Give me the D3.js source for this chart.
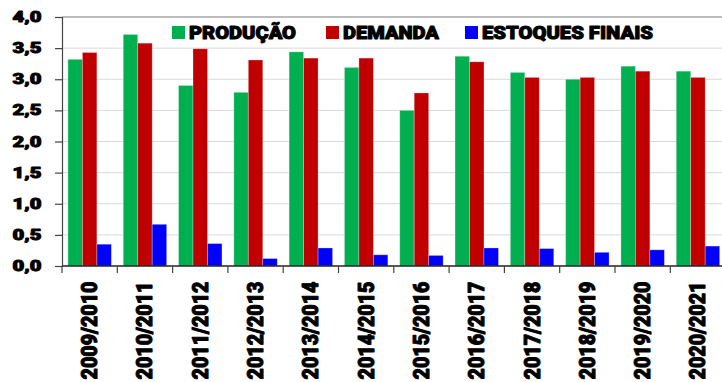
<!DOCTYPE html>
<html>
<head>
<meta charset="utf-8">
<script src="https://cdn.jsdelivr.net/npm/d3@7"></script>
<style>
  html, body { margin: 0; padding: 0; background: #fff; }
  svg { display: block; font-family: Roboto, "Liberation Sans", Arial, sans-serif; }
  .heavy { stroke: #000; stroke-linejoin: round; }
</style>
</head>
<body>
<svg id="chart" width="722" height="382"></svg>
<script>
// Safras e valores (milhões de toneladas)
const categories = ["2009/2010","2010/2011","2011/2012","2012/2013","2013/2014","2014/2015",
                    "2015/2016","2016/2017","2017/2018","2018/2019","2019/2020","2020/2021"];
const producao   = [3.32, 3.72, 2.90, 2.79, 3.44, 3.19, 2.50, 3.37, 3.11, 3.00, 3.21, 3.13];
const demanda    = [3.43, 3.58, 3.49, 3.31, 3.34, 3.34, 2.78, 3.28, 3.03, 3.03, 3.13, 3.03];
const estoques   = [0.35, 0.67, 0.36, 0.12, 0.29, 0.18, 0.17, 0.29, 0.28, 0.22, 0.26, 0.32];
const seriesNames = ["PRODUÇÃO", "DEMANDA", "ESTOQUES FINAIS"];
const seriesColors = ["#00B050", "#C00000", "#0000FF"];
const yTicks = [0, 0.5, 1, 1.5, 2, 2.5, 3, 3.5, 4];

const seriesValues = [producao, demanda, estoques];
const svg = d3.select("#chart");

const plotLeft = 62, plotRight = 725.6, plotTop = 17, plotBottom = 266;

const x0 = d3.scaleBand().domain(categories).range([plotLeft, plotRight]).paddingInner(0).paddingOuter(0);
const x1 = d3.scaleBand().domain(seriesNames).range([0, x0.bandwidth()]).paddingInner(0).paddingOuter(0.41);
const y = d3.scaleLinear().domain([0, 4]).range([plotBottom, plotTop]);

const fmt = v => d3.format(".1f")(v).replace(".", ",");

// Grid lines
svg.append("g").selectAll("line")
  .data(yTicks.filter(t => t > 0 && t < 4))
  .join("line")
  .attr("x1", plotLeft).attr("x2", 722)
  .attr("y1", d => y(d)).attr("y2", d => y(d))
  .attr("stroke", "#d9d9d9").attr("stroke-width", 1);

// Top border line
svg.append("line")
  .attr("x1", plotLeft).attr("x2", 722)
  .attr("y1", y(4)).attr("y2", y(4))
  .attr("stroke", "#a6a6a6").attr("stroke-width", 1.6);

// Bars
const groups = svg.append("g").selectAll("g")
  .data(categories)
  .join("g")
  .attr("transform", d => `translate(${x0(d)},0)`);

groups.selectAll("rect")
  .data((c, i) => seriesNames.map((s, k) => ({ s, k, v: seriesValues[k][i] })))
  .join("rect")
  .attr("x", d => x1(d.s))
  .attr("width", x1.bandwidth())
  .attr("y", d => y(d.v))
  .attr("height", d => y(0) - y(d.v))
  .attr("fill", d => seriesColors[d.k])
  .attr("stroke", "rgba(255,255,255,0.35)")
  .attr("stroke-width", 0.8);

// Y axis
const yAxis = svg.append("g").attr("transform", `translate(${plotLeft},0)`)
  .call(d3.axisLeft(y).tickValues(yTicks).tickSize(7).tickFormat(""));
yAxis.select(".domain").attr("stroke", "#444").attr("stroke-width", 1.2);
yAxis.selectAll(".tick line").attr("stroke", "#444").attr("stroke-width", 1.2);

svg.append("g").selectAll("text")
  .data(yTicks)
  .join("text")
  .attr("class", "heavy")
  .attr("stroke-width", 0.9)
  .attr("x", 41.5)
  .attr("y", d => y(d) + 5)
  .attr("text-anchor", "end")
  .attr("font-size", 14)
  .attr("font-weight", 900)
  .attr("textLength", 29)
  .attr("lengthAdjust", "spacingAndGlyphs")
  .attr("fill", "#000")
  .text(fmt);

// X axis
const boundaries = categories.map(c => x0(c));
const xAxisG = svg.append("g");
xAxisG.append("line")
  .attr("x1", plotLeft).attr("x2", 722)
  .attr("y1", plotBottom).attr("y2", plotBottom)
  .attr("stroke", "#222").attr("stroke-width", 1.4);
xAxisG.selectAll("line.tick")
  .data(boundaries)
  .join("line").attr("class", "tick")
  .attr("x1", d => d).attr("x2", d => d)
  .attr("y1", plotBottom).attr("y2", plotBottom + 7)
  .attr("stroke", "#444").attr("stroke-width", 1.2);

svg.append("g").selectAll("text")
  .data(categories)
  .join("text")
  .attr("class", "heavy")
  .attr("stroke-width", 1)
  .attr("transform", d => `translate(${x0(d) + x0.bandwidth() / 2 + 7.5},${plotBottom + 15.5}) rotate(-90)`)
  .attr("text-anchor", "end")
  .attr("font-size", 22)
  .attr("font-weight", 900)
  .attr("textLength", 98)
  .attr("lengthAdjust", "spacingAndGlyphs")
  .attr("fill", "#000")
  .text(d => d);

// Legend
const legendX = [172, 326, 465];
const legendTextWidth = [107, 96, 171];
const legend = svg.append("g").selectAll("g")
  .data(seriesNames)
  .join("g")
  .attr("transform", (d, i) => `translate(${legendX[i]},26)`);
legend.append("rect")
  .attr("width", 13).attr("height", 13)
  .attr("fill", (d, i) => seriesColors[i]);
legend.append("text")
  .attr("class", "heavy")
  .attr("stroke-width", 1)
  .attr("x", 17).attr("y", 13)
  .attr("font-size", 18.5)
  .attr("font-weight", 900)
  .attr("textLength", (d, i) => legendTextWidth[i])
  .attr("lengthAdjust", "spacingAndGlyphs")
  .attr("fill", "#000")
  .text(d => d);
</script>
</body>
</html>
